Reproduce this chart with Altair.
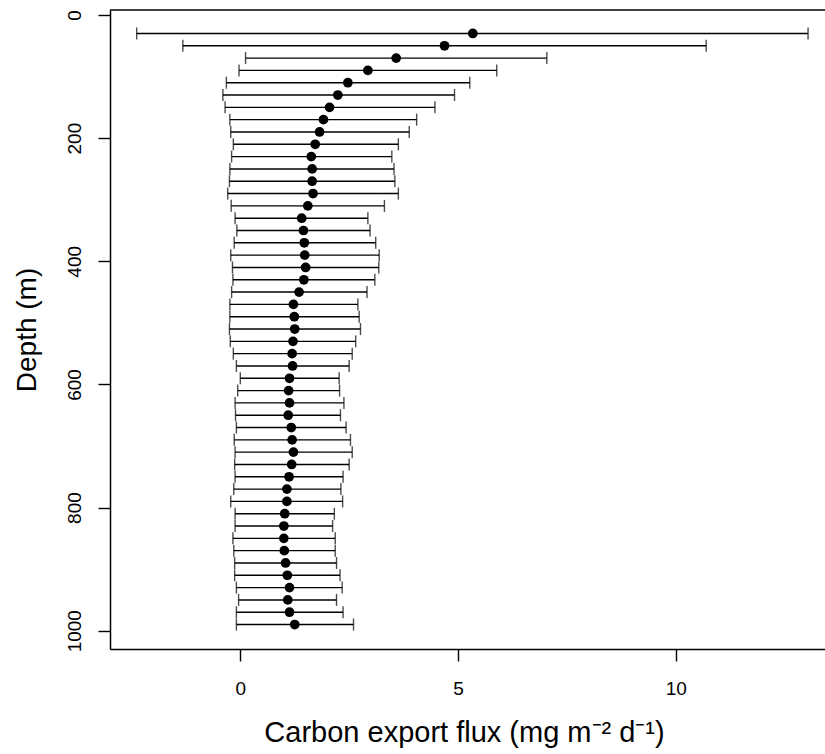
import altair as alt
import pandas as pd

# Depth levels (m)
depth = [30, 50, 70, 90, 110, 130, 150, 170, 190, 210, 230, 250, 270, 290, 310,
         330, 350, 370, 390, 410, 430, 450, 470, 490, 510, 530, 550, 570, 590,
         610, 630, 650, 670, 690, 710, 730, 750, 770, 790, 810, 830, 850, 870,
         890, 910, 930, 950, 970, 990]

# Carbon export flux: mean, lower and upper bounds (mg m-2 d-1)
flux = [5.34, 4.69, 3.58, 2.93, 2.47, 2.24, 2.05, 1.91, 1.82, 1.72, 1.63, 1.65,
        1.65, 1.67, 1.55, 1.41, 1.45, 1.47, 1.48, 1.50, 1.46, 1.35, 1.22, 1.24,
        1.25, 1.21, 1.19, 1.20, 1.13, 1.11, 1.13, 1.10, 1.17, 1.19, 1.22, 1.18,
        1.12, 1.07, 1.07, 1.02, 1.00, 1.00, 1.01, 1.04, 1.08, 1.13, 1.09, 1.13,
        1.25]
lower = [-2.38, -1.32, 0.12, -0.03, -0.32, -0.40, -0.35, -0.24, -0.22, -0.16,
         -0.20, -0.24, -0.25, -0.29, -0.21, -0.12, -0.08, -0.14, -0.22, -0.18,
         -0.17, -0.20, -0.24, -0.24, -0.25, -0.23, -0.16, -0.09, 0.00, -0.06,
         -0.12, -0.11, -0.09, -0.14, -0.12, -0.13, -0.12, -0.15, -0.22, -0.12,
         -0.12, -0.17, -0.15, -0.13, -0.13, -0.09, -0.04, -0.09, -0.09]
upper = [13.04, 10.70, 7.04, 5.89, 5.27, 4.92, 4.47, 4.05, 3.88, 3.63, 3.48,
         3.53, 3.55, 3.63, 3.31, 2.93, 2.98, 3.11, 3.19, 3.18, 3.09, 2.91, 2.70,
         2.73, 2.76, 2.65, 2.57, 2.50, 2.27, 2.28, 2.38, 2.30, 2.43, 2.53, 2.57,
         2.50, 2.36, 2.31, 2.35, 2.16, 2.12, 2.18, 2.18, 2.21, 2.29, 2.34, 2.21,
         2.36, 2.60]

x_ticks = [0, 5, 10]
y_ticks = [0, 200, 400, 600, 800, 1000]

df = pd.DataFrame({"depth": depth, "flux": flux, "lo": lower, "hi": upper})

W, H = 715, 639
FONT = "Liberation Sans"

x_scale = alt.Scale(domain=[-2.993, 13.429], nice=False, zero=False)
y_scale = alt.Scale(domain=[-8.12, 1029.7], nice=False, zero=False, reverse=True)

x_axis = alt.Axis(
    values=x_ticks, format="d", grid=False, tickSize=12, tickWidth=1.4,
    tickColor="black", domainColor="black", domainWidth=1.5, labelFont=FONT,
    labelFontSize=19, labelColor="black", labelPadding=18, labelBaseline="top",
    labelFlush=False, labelOverlap=False,
    title="Carbon export flux (mg m⁻² d⁻¹)", titleFont=FONT, titleFontSize=29,
    titleFontWeight="normal", titleColor="black", titleBaseline="alphabetic",
    titleAlign="center", titleX=354, titleY=92,
)
y_axis = alt.Axis(
    values=y_ticks, format="d", grid=False, tickSize=12, tickWidth=1.4,
    tickColor="black", domainColor="black", domainWidth=1.5, labelFont=FONT,
    labelFontSize=19, labelColor="black", labelPadding=18, labelAngle=270,
    labelAlign="center", labelBaseline="alphabetic", labelFlush=False,
    labelOverlap=False,
    title="Depth (m)", titleFont=FONT, titleFontSize=28, titleFontWeight="normal",
    titleColor="black", titleAngle=270, titleAlign="center",
    titleBaseline="alphabetic", titleX=-75,
)

base = alt.Chart(df)

bars = base.mark_rule(color="black", strokeWidth=1.4).encode(
    x=alt.X("lo:Q", scale=x_scale, axis=x_axis),
    x2="hi:Q",
    y=alt.Y("depth:Q", scale=y_scale, axis=y_axis),
)
cap_lo = base.mark_tick(color="black", orient="vertical", size=12, thickness=1.4).encode(
    x=alt.X("lo:Q", scale=x_scale),
    y=alt.Y("depth:Q", scale=y_scale),
)
cap_hi = base.mark_tick(color="black", orient="vertical", size=12, thickness=1.4).encode(
    x=alt.X("hi:Q", scale=x_scale),
    y=alt.Y("depth:Q", scale=y_scale),
)
points = base.mark_circle(color="black", opacity=1, size=95).encode(
    x=alt.X("flux:Q", scale=x_scale),
    y=alt.Y("depth:Q", scale=y_scale),
)
top_line = alt.Chart(pd.DataFrame({"k": [0]})).mark_rule(
    color="black", strokeWidth=1.5
).encode(x=alt.value(0), x2=alt.value(W), y=alt.value(0))

chart = (
    alt.layer(bars, cap_lo, cap_hi, points, top_line)
    .properties(
        width=W, height=H,
        autosize=alt.AutoSizeParams(type="none"),
        padding={"left": 110, "top": 10, "right": 0, "bottom": 100},
        background="white",
    )
    .configure_view(stroke=None)
)

chart.save("out.html", embed_options={"renderer": "svg", "actions": False})
